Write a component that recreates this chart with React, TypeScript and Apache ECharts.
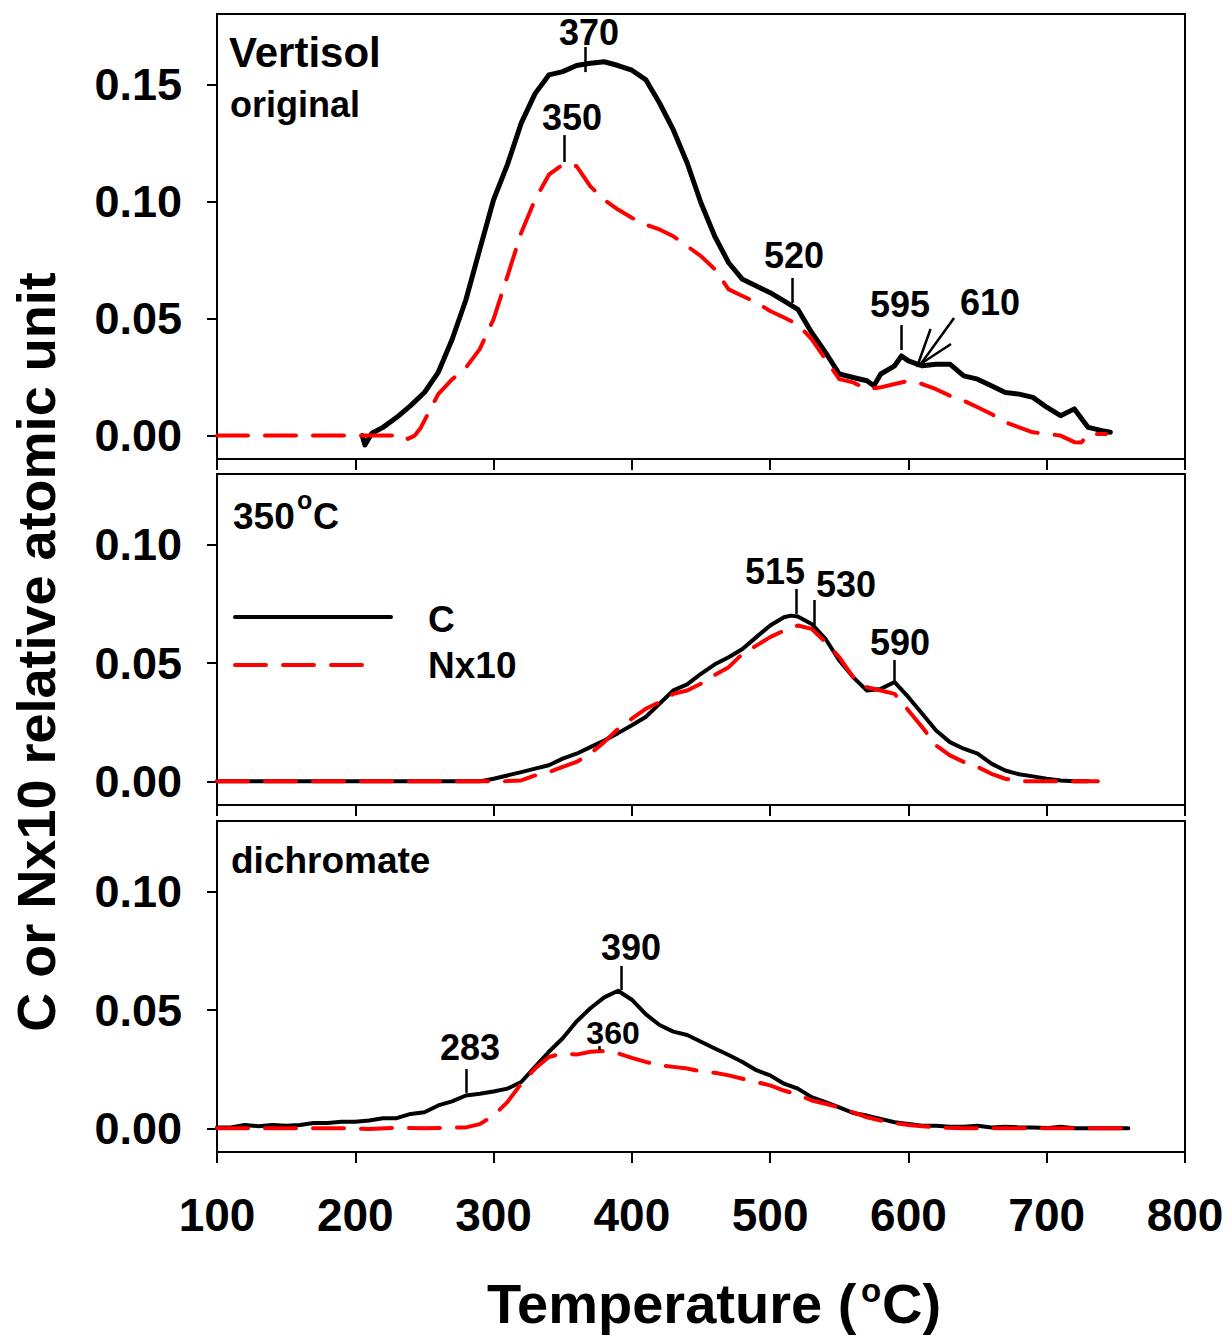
import React, { useEffect, useRef } from "react";
import * as echarts from "echarts";

const FONT = '"Liberation Sans", Arial, Helvetica, sans-serif';

// ---------- Panel 1: Vertisol original ----------
const p1CTemp = [205, 207, 212, 220, 230, 240, 250, 260, 270, 280, 290, 300, 310, 320, 330, 340, 350, 360, 370, 380, 390, 400, 410, 420, 430, 440, 450, 460, 470, 480, 490, 500, 510, 520, 530, 540, 550, 560, 570, 575, 580, 590, 595, 600, 610, 620, 630, 640, 650, 660, 670, 680, 690, 700, 710, 720, 730, 740, 746];
const p1CVal = [0.0, -0.004, 0.001, 0.0035, 0.0078, 0.0128, 0.0184, 0.027, 0.041, 0.058, 0.0795, 0.1007, 0.1157, 0.1334, 0.146, 0.154, 0.1554, 0.158, 0.159, 0.1596, 0.158, 0.156, 0.152, 0.142, 0.1305, 0.1164, 0.0993, 0.085, 0.0738, 0.0667, 0.0639, 0.061, 0.0575, 0.0539, 0.044, 0.0355, 0.0263, 0.0248, 0.0234, 0.0213, 0.0263, 0.0298, 0.034, 0.0319, 0.0298, 0.0305, 0.0305, 0.0255, 0.0241, 0.0213, 0.0184, 0.0177, 0.0163, 0.0121, 0.0085, 0.0114, 0.0035, 0.0021, 0.0014];
const p1NTemp = [100, 236, 238, 243, 247, 250, 260, 270, 280, 290, 300, 310, 320, 330, 340, 350, 355, 360, 370, 380, 390, 400, 410, 420, 430, 440, 450, 460, 470, 480, 490, 500, 510, 520, 530, 540, 550, 560, 570, 580, 590, 600, 610, 620, 630, 640, 650, 660, 670, 680, 690, 700, 710, 720, 725, 730, 743];
const p1NVal = [0, 0, -0.0014, 0.0, 0.003, 0.0064, 0.0177, 0.024, 0.029, 0.0369, 0.0497, 0.068, 0.0866, 0.1007, 0.1114, 0.1157, 0.116, 0.115, 0.1064, 0.1007, 0.0965, 0.093, 0.0901, 0.088, 0.0851, 0.0809, 0.0766, 0.071, 0.0624, 0.0596, 0.0568, 0.0532, 0.0504, 0.0475, 0.0412, 0.0326, 0.0241, 0.0227, 0.0198, 0.0206, 0.022, 0.0234, 0.022, 0.0198, 0.017, 0.0149, 0.0121, 0.0092, 0.0057, 0.0035, 0.0014, 0.0007, 0.0, -0.0028, -0.003, 0.0007, 0.0007];

// ---------- Panel 2: 350 oC ----------
const p2CTemp = [100, 290, 300, 310, 320, 330, 340, 350, 360, 370, 380, 390, 400, 410, 420, 430, 440, 450, 460, 470, 480, 490, 500, 510, 515, 520, 530, 540, 550, 560, 570, 580, 590, 600, 610, 620, 630, 640, 650, 660, 670, 680, 690, 700, 710, 720, 730];
const p2CVal = [0, 0, 0.0011, 0.0025, 0.0039, 0.0054, 0.0068, 0.0096, 0.0117, 0.0145, 0.0173, 0.0204, 0.0237, 0.0272, 0.0328, 0.0385, 0.041, 0.0455, 0.0495, 0.0525, 0.056, 0.061, 0.0659, 0.0694, 0.0701, 0.0697, 0.0666, 0.0603, 0.0511, 0.0441, 0.0384, 0.0391, 0.042, 0.0356, 0.0286, 0.0215, 0.0166, 0.0138, 0.0117, 0.0075, 0.0046, 0.003, 0.0021, 0.0011, 0.0004, 0.0, 0.0];
const p2NTemp = [100, 300, 310, 320, 330, 340, 350, 360, 370, 380, 390, 400, 410, 420, 430, 440, 450, 460, 470, 480, 490, 500, 510, 520, 530, 540, 550, 560, 570, 580, 590, 600, 610, 620, 630, 640, 650, 660, 670, 680, 690, 737];
const p2NVal = [0, 0, 0.0001, 0.0004, 0.0025, 0.0039, 0.0061, 0.0082, 0.0117, 0.0166, 0.0222, 0.0265, 0.0307, 0.0335, 0.037, 0.0384, 0.0413, 0.045, 0.0483, 0.0539, 0.0574, 0.061, 0.0638, 0.0659, 0.0645, 0.0589, 0.0525, 0.0441, 0.0398, 0.0384, 0.037, 0.03, 0.0229, 0.0152, 0.011, 0.0082, 0.0061, 0.0032, 0.0011, 0.0001, 0, 0];

// ---------- Panel 3: dichromate ----------
const p3CTemp = [100, 110, 120, 130, 140, 150, 160, 170, 180, 190, 200, 210, 220, 230, 240, 250, 260, 270, 280, 290, 300, 310, 320, 330, 340, 350, 360, 370, 380, 390, 400, 410, 420, 430, 440, 450, 460, 470, 480, 490, 500, 510, 520, 530, 540, 550, 560, 570, 580, 590, 600, 610, 620, 630, 640, 650, 660, 670, 680, 690, 700, 710, 720, 740, 759];
const p3CVal = [0.0004, 0.0004, 0.0014, 0.0009, 0.0014, 0.0011, 0.0014, 0.0023, 0.0023, 0.0028, 0.0028, 0.0033, 0.0043, 0.0043, 0.0061, 0.0068, 0.0097, 0.0114, 0.0139, 0.0146, 0.0156, 0.0168, 0.0196, 0.026, 0.0324, 0.0381, 0.0452, 0.0508, 0.0554, 0.0582, 0.0544, 0.0483, 0.0437, 0.0409, 0.0395, 0.0366, 0.0338, 0.031, 0.0281, 0.0246, 0.0224, 0.0189, 0.0168, 0.0132, 0.0111, 0.0089, 0.0065, 0.0054, 0.004, 0.0026, 0.0018, 0.0011, 0.0011, 0.0007, 0.0007, 0.0011, 0.0004, 0.0007, 0.0004, 0.0004, 0.0001, 0.0007, 0.0, 0.0, 0.0];
const p3NTemp = [100, 200, 210, 230, 250, 270, 280, 290, 300, 310, 320, 330, 340, 350, 360, 370, 380, 390, 400, 410, 420, 430, 440, 450, 460, 470, 480, 490, 500, 510, 520, 530, 540, 550, 560, 570, 580, 590, 600, 610, 620, 640, 759];
const p3NVal = [0, 0, -0.0003, 0.0003, 0.0, 0.0003, 0.0004, 0.0018, 0.0054, 0.0111, 0.0189, 0.0253, 0.0302, 0.0317, 0.0312, 0.0324, 0.0327, 0.0317, 0.0298, 0.0281, 0.0267, 0.026, 0.0253, 0.0241, 0.0235, 0.0224, 0.021, 0.0196, 0.0182, 0.016, 0.0142, 0.0118, 0.0104, 0.0089, 0.0068, 0.0047, 0.0033, 0.0023, 0.0014, 0.0009, 0.0004, 0, 0];

// ---------- Peak annotations (label text, label anchor in data units) ----------
const p1Labels = [["370", 369, 0.1719], ["350", 356.7, 0.1356], ["520", 517.2, 0.0771], ["595", 593.9, 0.0558], ["610", 659, 0.057]];
const p1Ticks = [[366, 0.1659, 366, 0.1552], [351, 0.1283, 351, 0.1168], [516, 0.0673, 516, 0.0566], [594.6, 0.0472, 594.6, 0.0365], [616, 0.0455, 606.2, 0.0293], [633, 0.0502, 608.4, 0.0301], [630.8, 0.0391, 609.8, 0.031]];
const p2Labels = [["515", 503.5, 0.0886], ["530", 554.8, 0.0831], ["590", 593.9, 0.0589]];
const p2Ticks = [[518.7, 0.0814, 518.7, 0.0708], [531.7, 0.0767, 531.7, 0.0661], [589.6, 0.0513, 589.6, 0.0412]];
const p3Labels = [["390", 399.4, 0.0767], ["283", 282.9, 0.034], ["360", 386.4, 0.0403]];
const p3Ticks = [[392.1, 0.0687, 392.1, 0.0585], [280, 0.0251, 280, 0.015], [376.2, 0.0348, 376.2, 0.0331]];

const panelTitles = ["Vertisol", "original", "350", "C", "dichromate"];
const xTicks = [100, 200, 300, 400, 500, 600, 700, 800];
const yTicksTop = [0, 0.05, 0.1, 0.15];
const yTicksOther = [0, 0.05, 0.1];
const legendNames = ["C", "Nx10"];

const zip = (t: number[], v: number[]) => t.map((x, i) => [x, v[i]]);

function buildOption() {
  const grids = [
    { left: 217, top: 14, width: 968, height: 445 },
    { left: 217, top: 474, width: 968, height: 331 },
    { left: 217, top: 821, width: 968, height: 331 },
  ].map((g) => ({ ...g, show: true, borderColor: "#000", borderWidth: 2, backgroundColor: "transparent" }));

  const xAxis = [0, 1, 2].map((i) => ({
    type: "value",
    gridIndex: i,
    min: xTicks[0],
    max: xTicks[xTicks.length - 1],
    interval: 100,
    axisLine: { show: true, onZero: false, lineStyle: { color: "#000", width: 2 } },
    axisTick: { show: true, inside: false, length: 11, lineStyle: { color: "#000", width: 2 } },
    axisLabel: {
      show: i === 2,
      margin: 40,
      fontSize: 46,
      fontWeight: "bold",
      fontFamily: FONT,
      color: "#000",
      showMinLabel: true,
      showMaxLabel: true,
    },
    splitLine: { show: false },
  }));

  const yAxis = [0, 1, 2].map((i) => {
    const ticks = i === 0 ? yTicksTop : yTicksOther;
    return {
      type: "value",
      gridIndex: i,
      min: -0.01,
      max: i === 0 ? 0.18 : 0.13,
      axisLine: { show: true, onZero: false, lineStyle: { color: "#000", width: 2 } },
      axisTick: { show: true, inside: false, length: 10, customValues: ticks, lineStyle: { color: "#000", width: 2 } },
      axisLabel: {
        show: true,
        customValues: ticks,
        formatter: (v: number) => v.toFixed(2),
        margin: 35,
        fontSize: 45,
        fontWeight: "bold",
        fontFamily: FONT,
        color: "#000",
      },
      splitLine: { show: false },
    };
  });

  const cSeries = (i: number, t: number[], v: number[], w: number) => ({
    name: legendNames[0],
    type: "line",
    xAxisIndex: i,
    yAxisIndex: i,
    data: zip(t, v),
    symbol: "none",
    showSymbol: false,
    lineStyle: { color: "#000", width: w, join: "round", cap: "round", opacity: 1 },
    itemStyle: { color: "#000" },
    z: 2,
  });
  const nSeries = (i: number, t: number[], v: number[]) => ({
    name: legendNames[1],
    type: "line",
    xAxisIndex: i,
    yAxisIndex: i,
    data: zip(t, v),
    symbol: "none",
    showSymbol: false,
    lineStyle: { color: "#ff0000", width: 4, type: [31, 17], cap: "round", join: "round", opacity: 1 },
    itemStyle: { color: "#ff0000" },
    z: 3,
  });
  const annSeries = (i: number, labels: any[], ticks: number[][]) => ({
    type: "scatter",
    xAxisIndex: i,
    yAxisIndex: i,
    silent: true,
    symbolSize: 1,
    itemStyle: { color: "rgba(0,0,0,0)", opacity: 1 },
    z: 5,
    data: labels.map((l) => ({
      value: [l[1], l[2], l[0]],
      label: l[0] === "360" && i === 2 ? { fontSize: 32 } : undefined,
    })),
    label: {
      show: true,
      position: "inside",
      formatter: (p: any) => p.value[2],
      fontSize: 36,
      fontWeight: "bold",
      fontFamily: FONT,
      color: "#000",
      opacity: 1,
    },
    markLine: {
      silent: true,
      symbol: ["none", "none"],
      label: { show: false },
      lineStyle: { color: "#000", width: 2.5, type: "solid", opacity: 1 },
      data: ticks.map((s) => [{ coord: [s[0], s[1]] }, { coord: [s[2], s[3]] }]),
    },
  });

  const txt = (text: string, x: number, y: number, size: number, extra: any = {}) => ({
    type: "text",
    x,
    y,
    silent: true,
    z: 10,
    ...extra,
    style: {
      text,
      fill: "#000",
      fontSize: size,
      fontWeight: "bold",
      fontFamily: FONT,
      align: extra.align || "left",
      verticalAlign: "middle",
    },
  });

  const graphic = [
    txt(panelTitles[0], 229, 52, 42),
    txt(panelTitles[1], 230, 104, 36),
    txt(panelTitles[2], 233, 516, 37),
    txt("o", 297, 500, 25),
    txt(panelTitles[3], 313, 516, 36),
    txt(panelTitles[4], 231, 860, 37),
    // legend
    { type: "line", silent: true, shape: { x1: 235, y1: 617, x2: 391, y2: 617 }, style: { stroke: "#000", lineWidth: 4, lineCap: "round" } },
    { type: "line", silent: true, shape: { x1: 235, y1: 665, x2: 375, y2: 665 }, style: { stroke: "#ff0000", lineWidth: 4, lineDash: [31, 17], lineCap: "round" } },
    txt(legendNames[0], 428, 619, 37),
    txt(legendNames[1], 428, 665, 37),
    // axis titles
    txt("C or Nx10 relative atomic unit", 36, 652, 54, { rotation: Math.PI / 2, align: "center" }),
    txt("Temperature (", 487, 1303, 56),
    txt("o", 861, 1290, 33),
    txt("C)", 882, 1303, 56),
  ];

  return {
    animation: false,
    backgroundColor: "#fff",
    grid: grids,
    xAxis,
    yAxis,
    series: [
      cSeries(0, p1CTemp, p1CVal, 5),
      nSeries(0, p1NTemp, p1NVal),
      annSeries(0, p1Labels, p1Ticks),
      cSeries(1, p2CTemp, p2CVal, 4),
      nSeries(1, p2NTemp, p2NVal),
      annSeries(1, p2Labels, p2Ticks),
      cSeries(2, p3CTemp, p3CVal, 4),
      nSeries(2, p3NTemp, p3NVal),
      annSeries(2, p3Labels, p3Ticks),
    ],
    graphic,
  };
}

export default function App() {
  const ref = useRef<HTMLDivElement>(null);
  useEffect(() => {
    if (!ref.current) return;
    const chart = echarts.init(ref.current, undefined, { renderer: "svg" });
    chart.setOption(buildOption() as any);
    return () => chart.dispose();
  }, []);
  return (
    <div
      ref={ref}
      style={{ position: "fixed", left: 0, top: 0, width: 1232, height: 1343, background: "#fff" }}
    />
  );
}
